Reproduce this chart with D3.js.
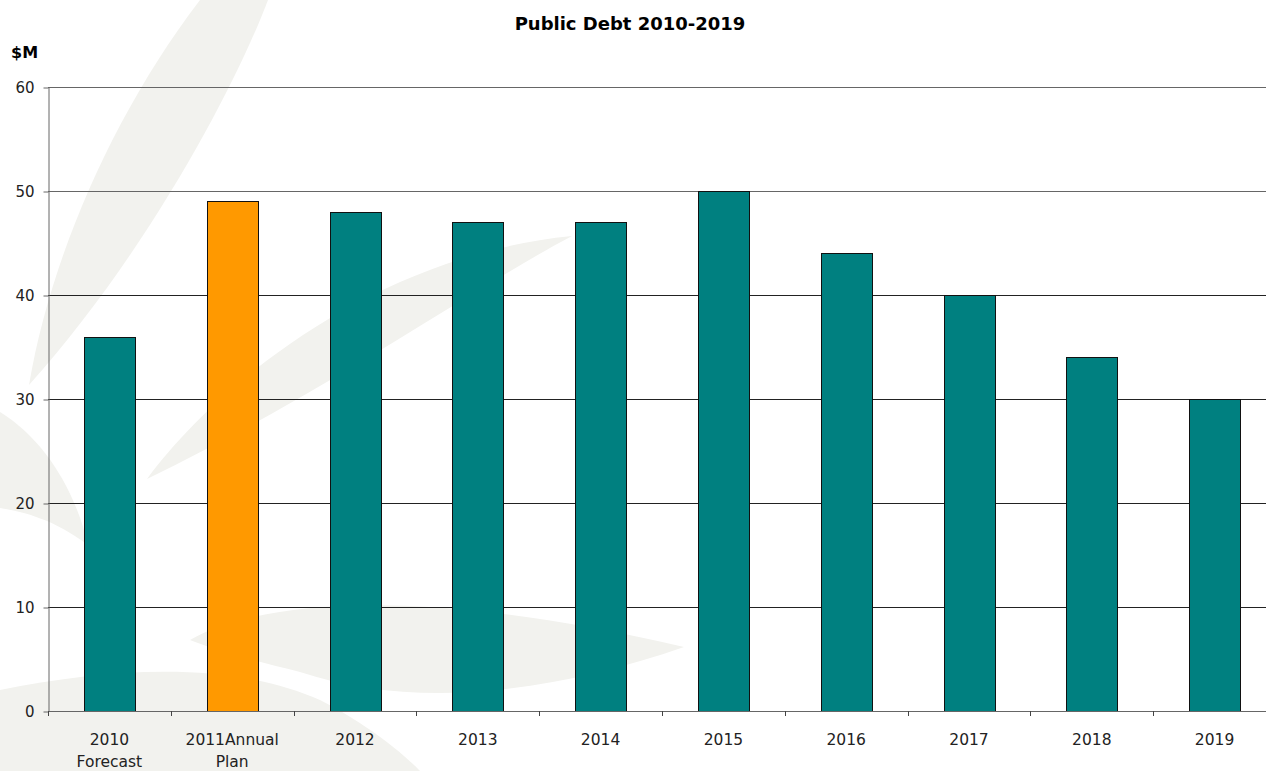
<!DOCTYPE html>
<html>
<head>
<meta charset="utf-8">
<script src="https://cdn.jsdelivr.net/npm/d3@7"></script>
<style>
  body { margin: 0; background: #fff; }
  svg { display: block; font-family: "DejaVu Sans", sans-serif; }
</style>
</head>
<body>
<div id="chart"></div>
<script>
// data
var years = ["2010", "2011", "2012", "2013", "2014", "2015", "2016", "2017", "2018", "2019"];
var yearLabels = [["2010", "Forecast"], ["2011Annual", "Plan"], ["2012"], ["2013"], ["2014"], ["2015"], ["2016"], ["2017"], ["2018"], ["2019"]];
var debt = [36, 49, 48, 47, 47, 50, 44, 40, 34, 30];
var barColors = ["#008080", "#FF9900", "#008080", "#008080", "#008080", "#008080", "#008080", "#008080", "#008080", "#008080"];
var yTicks = [0, 10, 20, 30, 40, 50, 60];

var width = 1266,
    height = 771,
    plotLeft = 48,
    plotRight = 1276,   // plot runs past the edge of the picture
    plotTop = 87,
    plotBottom = 711;

var svg = d3.select("#chart").append("svg")
    .attr("width", width)
    .attr("height", height);

// faint leaf watermark behind the chart
var leaves = [
  "M200,0 L268,0 C238,80 150,250 29,385 C50,260 112,115 200,0 Z",
  "M147,479 C220,380 380,255 572,236 C470,290 330,390 147,479 Z",
  "M0,412 C45,440 75,490 88,545 C55,520 25,512 0,508 Z",
  "M190,640 C260,600 420,585 684,647 C560,690 420,712 300,672 C250,660 215,650 190,640 Z",
  "M0,690 C110,668 230,660 320,700 C360,720 400,750 420,771 L0,771 Z"
];
svg.append("g").selectAll("path")
    .data(leaves)
    .enter().append("path")
    .attr("d", function(d) { return d; })
    .attr("fill", "#f2f2ee");

var x = d3.scaleBand()
    .domain(years)
    .range([plotLeft, plotRight])
    .paddingInner(0.585)
    .paddingOuter(0.2925);

var y = d3.scaleLinear()
    .domain([0, 60])
    .range([plotBottom, plotTop]);

// gridlines
svg.append("g").selectAll("line")
    .data(yTicks.filter(function(d) { return d > 0; }))
    .enter().append("line")
    .attr("x1", plotLeft).attr("x2", width)
    .attr("y1", function(d) { return Math.round(y(d)) + 0.5; })
    .attr("y2", function(d) { return Math.round(y(d)) + 0.5; })
    .attr("stroke", function(d) { return d == 60 || d == 50 ? "#666" : "#222"; })
    .attr("stroke-width", 1);

// bars
svg.append("g").selectAll("rect")
    .data(debt)
    .enter().append("rect")
    .attr("x", function(d, i) { return Math.round(x(years[i])) + 0.5; })
    .attr("y", function(d) { return Math.round(y(d)) + 0.5; })
    .attr("width", Math.round(x.bandwidth()))
    .attr("height", function(d) { return Math.round(y(0)) - Math.round(y(d)); })
    .attr("fill", function(d, i) { return barColors[i]; })
    .attr("stroke", "#111")
    .attr("stroke-width", 1);

// y axis
var yAxis = svg.append("g")
    .attr("transform", "translate(" + (plotLeft + 0.5) + ",0.5)")
    .call(d3.axisLeft(y).tickValues(yTicks).tickSize(5).tickSizeOuter(0).tickPadding(9));
yAxis.select(".domain").attr("stroke", "#666");
yAxis.selectAll(".tick line").attr("stroke", "#666");
yAxis.selectAll(".tick text")
    .attr("fill", "#222")
    .style("font-size", "15px")
    .style("font-family", "DejaVu Sans, sans-serif");

// x axis line and ticks between categories
var step = x.step();
svg.append("line")
    .attr("x1", plotLeft).attr("x2", width)
    .attr("y1", Math.round(y(0)) + 0.5).attr("y2", Math.round(y(0)) + 0.5)
    .attr("stroke", "#666");
svg.append("g").selectAll("line")
    .data(d3.range(years.length + 1))
    .enter().append("line")
    .attr("x1", function(i) { return Math.round(plotLeft + i * step) + 0.5; })
    .attr("x2", function(i) { return Math.round(plotLeft + i * step) + 0.5; })
    .attr("y1", Math.round(y(0)))
    .attr("y2", Math.round(y(0)) + 5)
    .attr("stroke", "#444");

// category labels
var labels = svg.append("g").selectAll("text")
    .data(yearLabels)
    .enter().append("text")
    .attr("x", function(d, i) { return x(years[i]) + x.bandwidth() / 2; })
    .attr("y", 745)
    .attr("text-anchor", "middle")
    .style("font-size", "15.5px")
    .attr("fill", "#222");
labels.selectAll("tspan")
    .data(function(d) { return d; })
    .enter().append("tspan")
    .attr("x", function() { return d3.select(this.parentNode).attr("x"); })
    .attr("dy", function(d, i) { return i == 0 ? 0 : 22; })
    .text(function(d) { return d; });

// title and unit
svg.append("text")
    .attr("x", 630).attr("y", 30)
    .attr("text-anchor", "middle")
    .style("font-size", "18px")
    .style("font-weight", "bold")
    .text("Public Debt 2010-2019");

svg.append("text")
    .attr("x", 11).attr("y", 58)
    .style("font-size", "16px")
    .style("font-weight", "bold")
    .text("$M");
</script>
</body>
</html>
